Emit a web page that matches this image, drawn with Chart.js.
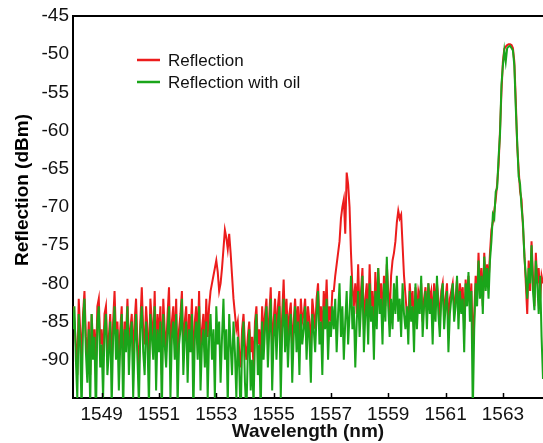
<!DOCTYPE html>
<html>
<head>
<meta charset="utf-8">
<script src="https://cdn.jsdelivr.net/npm/chart.js@4.4.1/dist/chart.umd.min.js"></script>
<style>
  html, body { margin: 0; padding: 0; background: #fff; }
  #spectrum { display: block; }
</style>
</head>
<body>
<canvas id="spectrum" width="543" height="443"></canvas>
<script>
// spectrum sampled every 0.05 nm starting at 1548.00 nm
const wavelengthStart = 1548;
const wavelengthStep = 0.05;

const reflection = [
  -83, -85, -88, -92, -82, -86, -90, -84, -81, -87,
  -90, -85, -92, -84, -88, -86, -91, -83, -82, -88,
  -86, -90, -84, -83, -89, -87, -84, -91, -85, -81,
  -87, -85, -90, -86, -83, -92, -85, -87, -82, -88,
  -86, -84, -90, -85, -82, -88, -91, -85, -80.5, -86,
  -88, -83, -86, -91, -82, -85, -88, -81, -90, -84,
  -87, -83, -92, -82, -86, -89, -84, -80.5, -90, -85,
  -83, -88, -82, -91, -86, -84, -81, -89, -85, -83,
  -90, -84, -87, -82, -92, -85, -83, -88, -81, -90,
  -86, -84, -89, -82, -87, -83, -81, -80, -79, -78,
  -77, -78.5, -81, -80, -78, -75.5, -73, -74, -75.5, -73.5,
  -76, -79, -82, -84, -86, -85, -89, -91, -86, -84,
  -88, -90, -87, -85, -89, -87, -91, -85, -83, -88,
  -86, -90, -83, -87, -84, -82, -88, -84, -80.5, -89,
  -85, -82, -87, -83, -81, -90, -84, -79.5, -86, -82,
  -87, -84, -82.5, -89, -85, -82, -86, -83, -88, -82,
  -85, -84, -82, -87, -83, -85, -89, -82, -84, -86,
  -82, -80, -85, -83, -87, -81, -84, -79.5, -86, -83,
  -85, -81, -81, -79, -77.5, -76, -74.5, -71.5, -70, -69,
  -73.5, -65.5, -67, -70, -76, -80.5, -83, -80, -84, -77.5,
  -84, -81, -78, -86, -82, -80, -85, -77.5, -83, -81,
  -86, -78.5, -84, -78, -82, -80, -85, -79, -83, -77.5,
  -81, -84, -79, -77, -76, -74.5, -72, -70.5, -71.5, -71,
  -75, -79, -81.5, -84, -85, -80, -83, -81, -86, -80.5,
  -84, -81, -82, -80, -85, -82, -80.5, -84, -80, -82,
  -81, -85, -80, -83, -80, -82, -85, -81, -80, -84,
  -82, -80, -86, -82, -81, -80, -83, -82, -79.5, -84,
  -80, -82, -80.5, -86, -79.5, -82, -79, -83, -80, -88,
  -84, -79, -82, -76, -81, -78, -83, -76, -80, -77.5,
  -80, -76, -73, -72, -70.5, -69, -67, -64.5, -60, -55,
  -51, -49.3, -49, -48.8, -48.7, -48.7, -48.8, -49.2, -51, -56,
  -62, -65, -68, -69, -72.5, -76, -80, -84, -77, -81,
  -74.5, -79, -83, -76, -80, -78, -82, -79, -80
];

const reflectionOil = [
  -86, -83, -90, -95, -84, -88, -97, -85, -82, -89,
  -93, -86, -96, -84, -90, -87, -98, -85, -83, -91,
  -88, -95, -86, -84, -92, -89, -85, -96, -87, -83,
  -90, -86, -94, -88, -84, -97, -86, -89, -83, -92,
  -87, -85, -95, -88, -84, -90, -96, -86, -83, -89,
  -92, -85, -88, -96, -84, -87, -90, -83, -94, -86,
  -89, -85, -97, -84, -88, -91, -86, -83, -95, -87,
  -85, -90, -84, -96, -88, -86, -82, -92, -87, -85,
  -93, -86, -89, -84, -97, -87, -85, -90, -83, -94,
  -88, -86, -91, -85, -95, -87, -84, -90, -86, -95,
  -83, -88, -85, -93, -87, -82, -90, -86, -96, -84,
  -88, -92, -85, -89, -95, -87, -91, -98, -88, -85,
  -93, -97, -89, -86, -94, -90, -96, -87, -84, -92,
  -88, -97, -85, -90, -86, -83, -91, -86, -82, -94,
  -87, -84, -90, -85, -83, -95, -86, -82, -89, -84,
  -91, -86, -84, -93, -87, -83, -89, -85, -92, -84,
  -88, -86, -83, -90, -85, -87, -93, -84, -86, -89,
  -84, -81, -88, -85, -92, -83, -86, -82, -90, -85,
  -87, -83, -86, -82, -89, -84, -80, -87, -83, -90,
  -85, -81, -88, -84, -79, -86, -83, -91, -85, -81,
  -87, -83, -79, -89, -84, -82, -88, -80, -85, -83,
  -90, -81, -86, -78, -84, -82, -88, -80, -85, -76.5,
  -83, -87, -82, -86, -80, -84, -79, -85, -82, -87,
  -80, -84, -86, -83, -88, -81, -85, -83, -89, -80,
  -86, -82, -84, -79, -87, -83, -81, -86, -80, -84,
  -82, -88, -81, -85, -79, -84, -87, -82, -80, -86,
  -83, -81, -89, -84, -82, -80, -85, -83, -79, -86,
  -81, -84, -82, -89, -80, -83, -78.5, -85, -81, -97,
  -86, -80, -83, -77, -82, -79, -84, -76.5, -81, -78,
  -82, -77, -74.5, -71, -71.5, -68, -67.5, -63.5, -60.5, -54,
  -51.5, -49.5, -51, -49.2, -49, -48.9, -49.2, -49.5, -51.5, -57,
  -61.5, -66, -67, -70, -72, -76.5, -79, -82, -78, -80,
  -75, -81, -83.5, -77, -80, -84, -79, -87, -92.5
];

const xTicks = [1549, 1551, 1553, 1555, 1557, 1559, 1561, 1563];
const yTicks = [-90, -85, -80, -75, -70, -65, -60, -55, -50, -45];

const toPoints = arr => arr.map((v, i) => ({
  x: +(wavelengthStart + i * wavelengthStep).toFixed(2),
  y: v
}));

const FONT = "'Liberation Sans', Arial, sans-serif";

// frame top line, inward x ticks, axis title for y and the legend
const decorations = {
  id: 'decorations',
  afterDraw(chart) {
    const ctx = chart.ctx;
    const area = chart.chartArea;
    const xs = chart.scales.x;
    ctx.save();
    ctx.strokeStyle = '#000';
    ctx.lineWidth = 2;
    ctx.beginPath();
    ctx.moveTo(area.left, area.top);
    ctx.lineTo(area.right, area.top);
    ctx.stroke();

    ctx.lineWidth = 1.5;
    xTicks.forEach(v => {
      const px = Math.round(xs.getPixelForValue(v)) + 0.5;
      ctx.beginPath();
      ctx.moveTo(px, area.bottom);
      ctx.lineTo(px, area.bottom - 5);
      ctx.stroke();
    });

    ctx.fillStyle = '#000';
    ctx.font = 'bold 19px ' + FONT;
    ctx.textAlign = 'center';
    ctx.textBaseline = 'middle';
    ctx.translate(23, 190);
    ctx.rotate(-Math.PI / 2);
    ctx.fillText('Reflection (dBm)', 0, 0);
    ctx.restore();

    ctx.save();
    ctx.font = '17px ' + FONT;
    ctx.textBaseline = 'middle';
    ctx.textAlign = 'left';
    chart.data.datasets.forEach((ds, i) => {
      const y = 60 + i * 22;
      ctx.strokeStyle = ds.borderColor;
      ctx.lineWidth = 2.5;
      ctx.beginPath();
      ctx.moveTo(137, y);
      ctx.lineTo(160, y);
      ctx.stroke();
      ctx.fillStyle = '#111';
      ctx.fillText(ds.label, 168, y + 1);
    });
    ctx.restore();
  }
};

new Chart(document.getElementById('spectrum'), {
  type: 'line',
  data: {
    datasets: [
      {
        label: 'Reflection',
        data: toPoints(reflection),
        borderColor: '#ec1c1c',
        borderWidth: 2,
        pointRadius: 0,
        tension: 0,
        clip: 0,
        order: 2
      },
      {
        label: 'Reflection with oil',
        data: toPoints(reflectionOil),
        borderColor: '#1aa51a',
        borderWidth: 2,
        pointRadius: 0,
        tension: 0,
        clip: 0,
        order: 1
      }
    ]
  },
  options: {
    responsive: false,
    animation: false,
    layout: { padding: { top: 16, left: 0, right: 0, bottom: 0 } },
    plugins: {
      legend: { display: false },
      tooltip: { enabled: false }
    },
    scales: {
      x: {
        type: 'linear',
        min: 1548,
        max: 1564.4,
        afterBuildTicks: scale => { scale.ticks = xTicks.map(v => ({ value: v })); },
        afterFit: scale => { scale.height = 45; },
        grid: { display: false, drawTicks: false },
        border: { color: '#000', width: 2 },
        ticks: {
          color: '#111',
          font: { family: FONT, size: 19 },
          padding: 5,
          maxRotation: 0,
          autoSkip: false,
          callback: v => String(v)
        },
        title: {
          display: true,
          text: 'Wavelength (nm)',
          color: '#111',
          font: { family: FONT, size: 19, weight: 'bold' },
          padding: { top: 0, bottom: 0 }
        }
      },
      y: {
        min: -95,
        max: -45,
        afterBuildTicks: scale => { scale.ticks = yTicks.map(v => ({ value: v })); },
        afterFit: scale => { scale.width = 73; },
        grid: { display: false, drawTicks: false },
        border: { color: '#000', width: 2 },
        ticks: {
          color: '#111',
          font: { family: FONT, size: 19 },
          padding: 4
        }
      }
    }
  },
  plugins: [decorations]
});
</script>
</body>
</html>
